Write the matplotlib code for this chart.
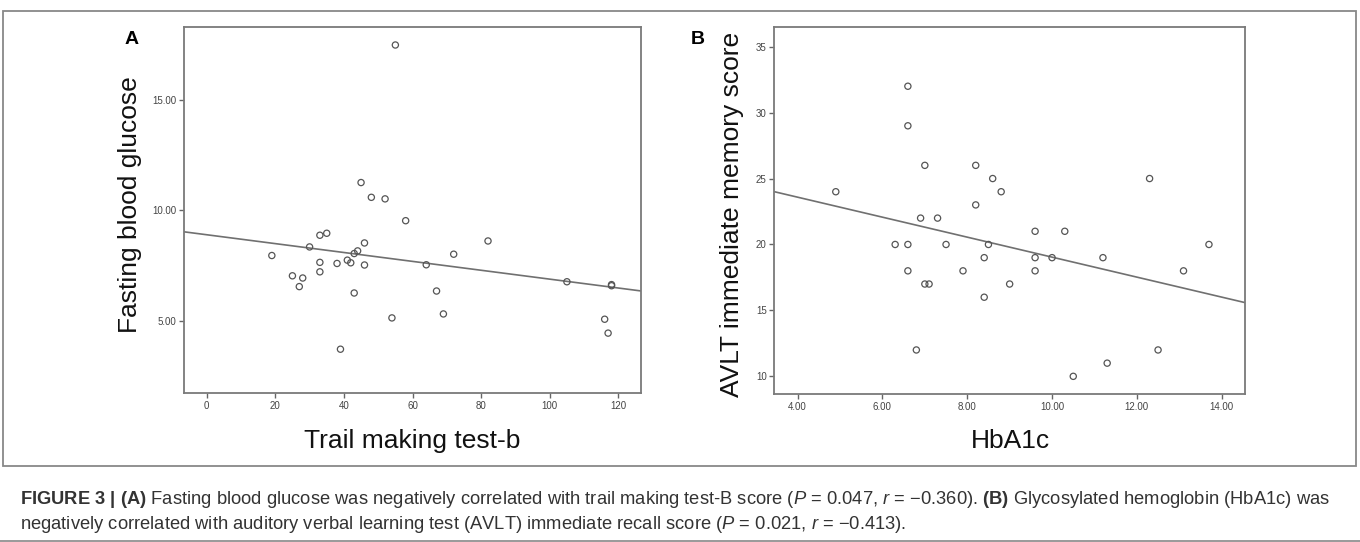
import numpy as np
import matplotlib
matplotlib.use("Agg")
import matplotlib.pyplot as plt
from matplotlib.patches import Rectangle
from matplotlib.lines import Line2D

W, H = 1360, 542

# panel A: trail making test-b vs fasting blood glucose
tmt_b = [19, 25, 27, 28, 30, 33, 33, 33, 35, 38, 39, 41, 42, 43, 43, 44, 45,
         46, 46, 48, 52, 54, 55, 58, 64, 67, 69, 72, 82, 105, 116, 117, 118, 118]
glucose = [7.95, 7.03, 6.54, 6.93, 8.34, 8.87, 7.64, 7.21, 8.96, 7.59, 3.70, 7.74,
           7.62, 8.04, 6.25, 8.16, 11.26, 8.52, 7.52, 10.59, 10.52, 5.12, 17.5, 9.53,
           7.53, 6.34, 5.30, 8.01, 8.61, 6.76, 5.06, 4.43, 6.63, 6.58]
xticks_a = [0, 20, 40, 60, 80, 100, 120]
yticks_a = [5, 10, 15]

# panel B: HbA1c vs AVLT immediate memory score
hba1c = [4.9, 6.3, 6.6, 6.6, 6.6, 6.6, 6.8, 6.9, 7.0, 7.0, 7.1, 7.3, 7.5, 7.9, 8.2,
         8.2, 8.4, 8.4, 8.5, 8.6, 8.8, 9.0, 9.6, 9.6, 9.6, 10.0, 10.3, 10.5, 11.2,
         11.3, 12.3, 12.5, 13.1, 13.7]
avlt = [24, 20, 32, 29, 20, 18, 12, 22, 26, 17, 17, 22, 20, 18, 26, 23, 19, 16, 20,
        25, 24, 17, 21, 19, 18, 19, 21, 10, 19, 11, 25, 12, 18, 20]
xticks_b = [4, 6, 8, 10, 12, 14]
yticks_b = [10, 15, 20, 25, 30, 35]

plain = ["Liberation Sans", "DejaVu Sans"]

plt.rcParams["mathtext.fontset"] = "custom"
plt.rcParams["mathtext.rm"] = "Liberation Sans"
plt.rcParams["mathtext.it"] = "Liberation Sans:italic"
plt.rcParams["mathtext.bf"] = "Liberation Sans:bold"

fig = plt.figure(figsize=(W / 100, H / 100), dpi=100)


def fx(px):
    return px / W


def fy(py):
    return 1 - py / H


def scatter_panel(rect, x, y, xlim, ylim, xticks, yticks, xfmt, yfmt):
    ax = fig.add_axes(rect)
    ax.scatter(x, y, s=20, facecolors="none", edgecolors="#555555", linewidths=0.9, zorder=3)
    k, b = np.polyfit(x, y, 1)
    xs = np.array(xlim)
    ax.plot(xs, k * xs + b, color="#707070", lw=1.2, zorder=2)
    ax.set_xlim(xlim)
    ax.set_ylim(ylim)
    ax.set_xticks(xticks)
    ax.set_yticks(yticks)
    ax.set_xticklabels([xfmt % v for v in xticks], family=plain, fontsize=7, color="#444444")
    ax.set_yticklabels([yfmt % v for v in yticks], family=plain, fontsize=7, color="#444444")
    ax.tick_params(direction="out", length=3.5, width=1, color="#666666", pad=2)
    for sp in ax.spines.values():
        sp.set_color("#7a7a7a")
        sp.set_linewidth(1.3)
    return ax


axA = scatter_panel([fx(184), fy(393.3), fx(640.7) - fx(184), fy(26.7) - fy(393.3)],
                    tmt_b, glucose, (-6.6, 126.5), (1.7, 18.33),
                    xticks_a, yticks_a, "%d", "%.2f")
axB = scatter_panel([fx(774.3), fy(394), fx(1245) - fx(774.3), fy(27.3) - fy(394)],
                    hba1c, avlt, (3.45, 14.55), (8.66, 36.47),
                    xticks_b, yticks_b, "%.2f", "%d")

# axis labels
fig.text(fx(130), fy(205), "Fasting blood glucose", rotation=90, ha="center", va="center",
         family=plain, fontsize=19, color="#111111")
fig.text(fx(412), fy(441), "Trail making test-b", ha="center", va="center",
         family=plain, fontsize=19, color="#111111")
fig.text(fx(732), fy(214), "AVLT immediate memory score", rotation=90, ha="center", va="center",
         family=plain, fontsize=19, color="#111111")
fig.text(fx(1010), fy(441), "HbA1c", ha="center", va="center",
         family=plain, fontsize=19, color="#111111")

# panel letters
fig.text(fx(132), fy(40), "A", ha="center", va="center", family=plain, fontsize=14,
         fontweight="bold", color="black")
fig.text(fx(698), fy(40), "B", ha="center", va="center", family=plain, fontsize=14,
         fontweight="bold", color="black")

# frame around figure and rule under caption
fig.patches.append(Rectangle((fx(3), fy(466)), fx(1355.7) - fx(3), fy(10.7) - fy(466),
                             transform=fig.transFigure, fill=False, edgecolor="#888888", lw=1.3))
fig.lines.append(Line2D([0, 1], [fy(540.5), fy(540.5)], transform=fig.transFigure,
                        color="#888888", lw=1.2))

cap1 = (r"$\mathbf{FIGURE\ 3\ |\ (A)}$ Fasting blood glucose was negatively correlated with "
        r"trail making test-B score ($\mathit{P}$ = 0.047, $\mathit{r}$ = −0.360). "
        r"$\mathbf{(B)}$ Glycosylated hemoglobin (HbA1c) was")
cap2 = (r"negatively correlated with auditory verbal learning test (AVLT) immediate recall "
        r"score ($\mathit{P}$ = 0.021, $\mathit{r}$ = −0.413).")
fig.text(fx(20), fy(504), cap1, ha="left", va="baseline", family=plain, fontsize=13.2, color="#333333")
fig.text(fx(20), fy(529), cap2, ha="left", va="baseline", family=plain, fontsize=13.2, color="#333333")

fig.savefig("out.png", dpi=100, facecolor="white")
